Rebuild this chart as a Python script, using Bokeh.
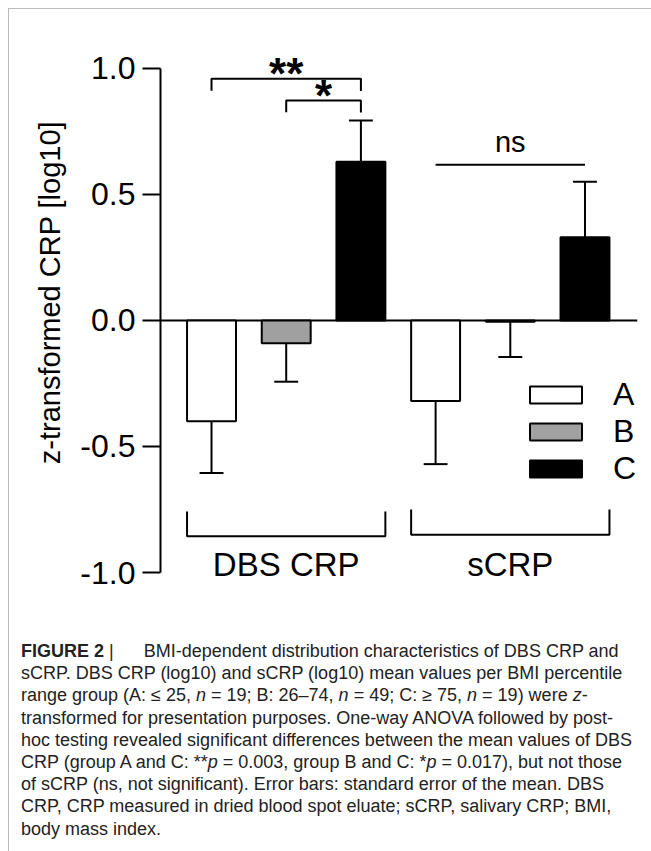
from bokeh.plotting import figure
from bokeh.models import (Range1d, FixedTicker, Span, Legend, LegendItem,
                          Div, ColumnDataSource, LinearAxis)
from bokeh.layouts import column
from bokeh.core.properties import value
from bokeh.embed import file_html
from bokeh.resources import INLINE

# ---------------- data ----------------
groups = ["A", "B", "C"]
measures = ["DBS CRP", "sCRP"]
dbs_means = [-0.40, -0.09, 0.63]
dbs_sem = [0.205, 0.153, 0.163]
scrp_means = [-0.32, -0.005, 0.33]
scrp_sem = [0.25, 0.14, 0.22]
fill_colors = ["white", "#a0a0a0", "black"]
y_ticks = [-1.0, -0.5, 0.0, 0.5, 1.0]
y_tick_labels = ["-1.0", "-0.5", "0.0", "0.5", "1.0"]
sig_pairs = [("A", "C", "**", 0.959), ("B", "C", "*", 0.873)]   # DBS CRP comparisons
ns_level = 0.618
y_title = "z-transformed CRP [log10]"

FONT = "Liberation Sans"
BAR_W = 0.655
CAP = 0.16

means_all = [dbs_means, scrp_means]
sems_all = [dbs_sem, scrp_sem]

def xpos(mi, gi):
    return 1 + 3 * mi + gi

p = figure(width=640, height=596, output_backend="svg", toolbar_location=None,
           x_range=Range1d(0.317, 6.703), y_range=Range1d(-1.0, 1.222),
           x_axis_location=None, y_axis_location=None,
           min_border_left=151, min_border_right=12, min_border_top=3,
           min_border_bottom=33)
p.xgrid.visible = False
p.ygrid.visible = False
p.outline_line_color = None
p.background_fill_color = "white"
p.border_fill_color = "white"

# y axis
yax = LinearAxis(ticker=FixedTicker(ticks=y_ticks, minor_ticks=[]))
yax.major_label_overrides = {t: l for t, l in zip(y_ticks, y_tick_labels)}
yax.bounds = (y_ticks[0], y_ticks[-1])
yax.axis_line_width = 2
yax.axis_line_color = "black"
yax.major_tick_line_width = 2
yax.major_tick_line_color = "black"
yax.major_tick_out = 18
yax.major_tick_in = 0
yax.minor_tick_out = 0
yax.minor_tick_in = 0
yax.major_label_standoff = 7
yax.major_label_text_font = FONT
yax.major_label_text_font_size = "32px"
yax.major_label_text_color = "black"
yax.axis_label = y_title
yax.axis_label_text_font = FONT
yax.axis_label_text_font_size = "29px"
yax.axis_label_text_font_style = "normal"
yax.axis_label_text_color = "black"
yax.axis_label_standoff = 11
p.add_layout(yax, "left")

# x axis carrying the measure names (sits over the bottom of the frame)
group_centers = [xpos(mi, 1) for mi in range(len(measures))]
xax = LinearAxis(ticker=FixedTicker(ticks=group_centers, minor_ticks=[]))
xax.major_label_overrides = {c: m for c, m in zip(group_centers, measures)}
xax.axis_line_color = None
xax.major_tick_line_color = None
xax.minor_tick_line_color = None
xax.major_tick_out = 0
xax.major_tick_in = 0
xax.major_label_standoff = -27
xax.major_label_text_font = FONT
xax.major_label_text_font_size = "33px"
xax.major_label_text_color = "black"
p.add_layout(xax, "below")

# zero line
p.add_layout(Span(location=0, dimension="width", line_color="black", line_width=2,
                  level="underlay"))

# bars per group (for legend)
renderers = []
for gi, g in enumerate(groups):
    src = ColumnDataSource(dict(
        x=[xpos(mi, gi) for mi in range(len(measures))],
        top=[means_all[mi][gi] for mi in range(len(measures))],
    ))
    r = p.vbar(x="x", top="top", bottom=0, width=BAR_W, source=src,
               fill_color=fill_colors[gi], line_color="black", line_width=2)
    renderers.append(r)

# error bars (one-sided, away from zero)
ex, ey0, ey1, cx0, cx1, cy = [], [], [], [], [], []
for mi in range(len(measures)):
    for gi in range(len(groups)):
        m = means_all[mi][gi]
        s = sems_all[mi][gi]
        sign = 1 if m > 0 else -1
        end = m + sign * s
        x = xpos(mi, gi)
        ex.append(x); ey0.append(m); ey1.append(end)
        cx0.append(x - CAP); cx1.append(x + CAP); cy.append(end)
p.segment(x0=ex, y0=ey0, x1=ex, y1=ey1, line_color="black", line_width=2)
p.segment(x0=cx0, y0=cy, x1=cx1, y1=cy, line_color="black", line_width=2)

# significance brackets (DBS CRP)
bxs, bys = [], []
tx, ty, tt = [], [], []
for a, b, lab, lvl in sig_pairs:
    xa = xpos(0, groups.index(a))
    xb = xpos(0, groups.index(b))
    bxs.append([xa, xa, xb, xb])
    bys.append([lvl - 0.047, lvl, lvl, lvl - 0.048])
    tx.append((xa + xb) / 2)
    ty.append(lvl + 0.019)
    tt.append(lab)
p.multi_line(xs=bxs, ys=bys, line_color="black", line_width=2)
p.text(x=tx, y=ty, text=tt, text_font=value(FONT), text_font_size="44px",
       text_font_style="bold", text_align="center", text_baseline="alphabetic",
       text_color="black")

# ns line (sCRP)
xa, xb = xpos(1, 0), xpos(1, 2)
p.segment(x0=[xa], y0=[ns_level], x1=[xb], y1=[ns_level], line_color="black", line_width=2)
p.text(x=[(xa + xb) / 2], y=[ns_level + 0.09], text=["ns"], text_font=value(FONT),
       text_font_size="29px", text_align="center", text_baseline="alphabetic",
       text_color="black")

# group brackets at the bottom
gxs, gys = [], []
grp_bracket = [(-0.758, -0.856), (-0.750, -0.850)]
for mi in range(len(measures)):
    left = xpos(mi, 0) - BAR_W / 2
    right = xpos(mi, 2) + BAR_W / 2
    top_, bot_ = grp_bracket[mi]
    gxs.append([left, left, right, right])
    gys.append([top_, bot_, bot_, top_])
p.multi_line(xs=gxs, ys=gys, line_color="black", line_width=2)

# legend
legend = Legend(items=[LegendItem(label=g, renderers=[r]) for g, r in zip(groups, renderers)],
                location=(363, 85), padding=0, margin=0, spacing=0,
                border_line_color=None, background_fill_alpha=0,
                glyph_width=65, glyph_height=21, label_standoff=25,
                label_text_font=FONT, label_text_font_size="32px",
                label_text_color="black")
p.add_layout(legend)

caption_lines = [
    "<b>FIGURE 2</b>&nbsp;|&nbsp;&nbsp;&nbsp;&nbsp;&nbsp; BMI-dependent distribution characteristics of DBS CRP and",
    "sCRP. DBS CRP (log10) and sCRP (log10) mean values per BMI percentile",
    "range group (A: \u2264 25, <i>n</i> = 19; B: 26\u201374, <i>n</i> = 49; C: \u2265 75, <i>n</i> = 19) were <i>z</i>-",
    "transformed for presentation purposes. One-way ANOVA followed by post-",
    "hoc testing revealed significant differences between the mean values of DBS",
    "CRP (group A and C: **<i>p</i> = 0.003, group B and C: *<i>p</i> = 0.017), but not those",
    "of sCRP (ns, not significant). Error bars: standard error of the mean. DBS",
    "CRP, CRP measured in dried blood spot eluate; sCRP, salivary CRP; BMI,",
    "body mass index.",
]
caption_html = ('<div style="white-space:nowrap;font-family:\'Liberation Sans\';'
                'font-size:18px;line-height:22.2px;color:#222;'
                'padding-top:30px;padding-left:7px;">'
                + "<br>".join(caption_lines) + "</div>")
caption = Div(text=caption_html, width=640, height=236)

layout = column(p, caption, spacing=0, margin=(8, 0, 0, 8),
                styles={"border-top": "1px solid #bbb", "border-left": "1px solid #bbb"})

open("out.html", "w").write(file_html(layout, INLINE))
